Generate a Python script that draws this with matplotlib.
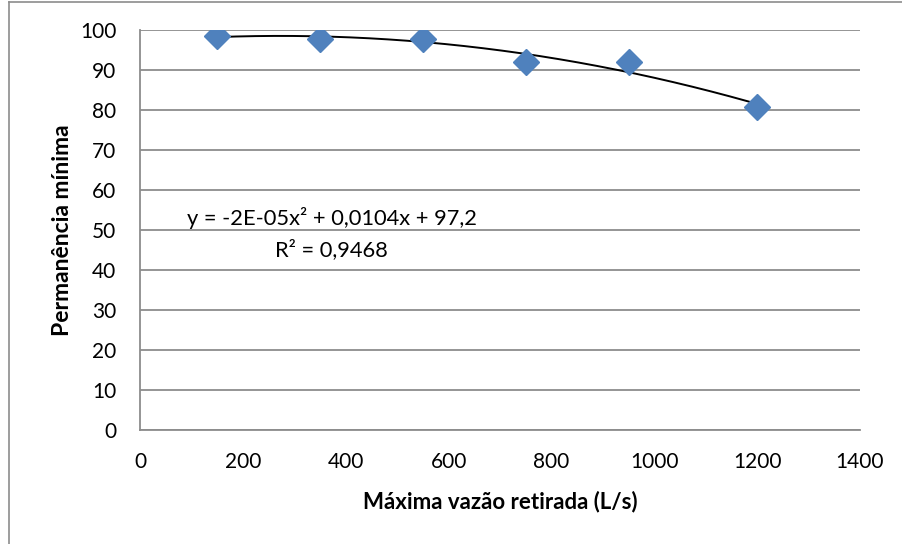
import numpy as np
import matplotlib
matplotlib.use("Agg")
import matplotlib.pyplot as plt
from matplotlib.lines import Line2D

# data
vazao = [150, 350, 550, 750, 950, 1200]
permanencia = [98.6, 97.8, 97.7, 91.9, 91.9, 80.7]
eq_text = "y = -2E-05x² + 0,0104x + 97,2"
r2_text = "R² = 0,9468"

plt.rcParams['font.family'] = ['Lato', 'DejaVu Sans']

W, H = 902, 544
fig = plt.figure(figsize=(W / 100, H / 100), dpi=100)
ax = fig.add_axes([140 / W, 1 - 430 / H, 720 / W, 400 / H])

# polynomial trendline (order 2) fitted to the points
coef = np.polyfit(vazao, permanencia, 2)
xs = np.linspace(min(vazao), max(vazao), 200)
ax.plot(xs, np.polyval(coef, xs), color="black", lw=1.4, zorder=3)
ax.plot(vazao, permanencia, "D", color="#4F81BD", markersize=13, zorder=4)

ax.set_xlim(0, 1400)
ax.set_ylim(0, 100)
ax.set_xticks(range(0, 1401, 200))
ax.set_yticks(range(0, 101, 10))
ax.yaxis.grid(True, color="#8c8c8c", lw=1.3)
ax.set_axisbelow(True)
for s in ["top", "right"]:
    ax.spines[s].set_visible(False)
for s in ["left", "bottom"]:
    ax.spines[s].set_color("#8c8c8c")
    ax.spines[s].set_linewidth(1.3)
ax.tick_params(length=0, labelsize=15)
ax.tick_params(axis="y", pad=17)
ax.tick_params(axis="x", pad=16)

ax.set_xlabel("Máxima vazão retirada (L/s)", fontsize=16, fontweight="bold", labelpad=13)
ax.set_ylabel("Permanência mínima", fontsize=16.5, fontweight="bold", labelpad=5)

ax.text(373, 53, eq_text, fontsize=15.75, ha="center", va="center")
ax.text(373, 45, r2_text, fontsize=15.75, ha="center", va="center")

# outer chart border (cropped on the right and bottom)
fig.add_artist(Line2D([9 / W, 9 / W], [0, 1 - 2 / H], color="#8c8c8c", lw=1.2, transform=fig.transFigure))
fig.add_artist(Line2D([9 / W, 1], [1 - 2 / H, 1 - 2 / H], color="#8c8c8c", lw=1.2, transform=fig.transFigure))

fig.savefig("out.png", dpi=100)
